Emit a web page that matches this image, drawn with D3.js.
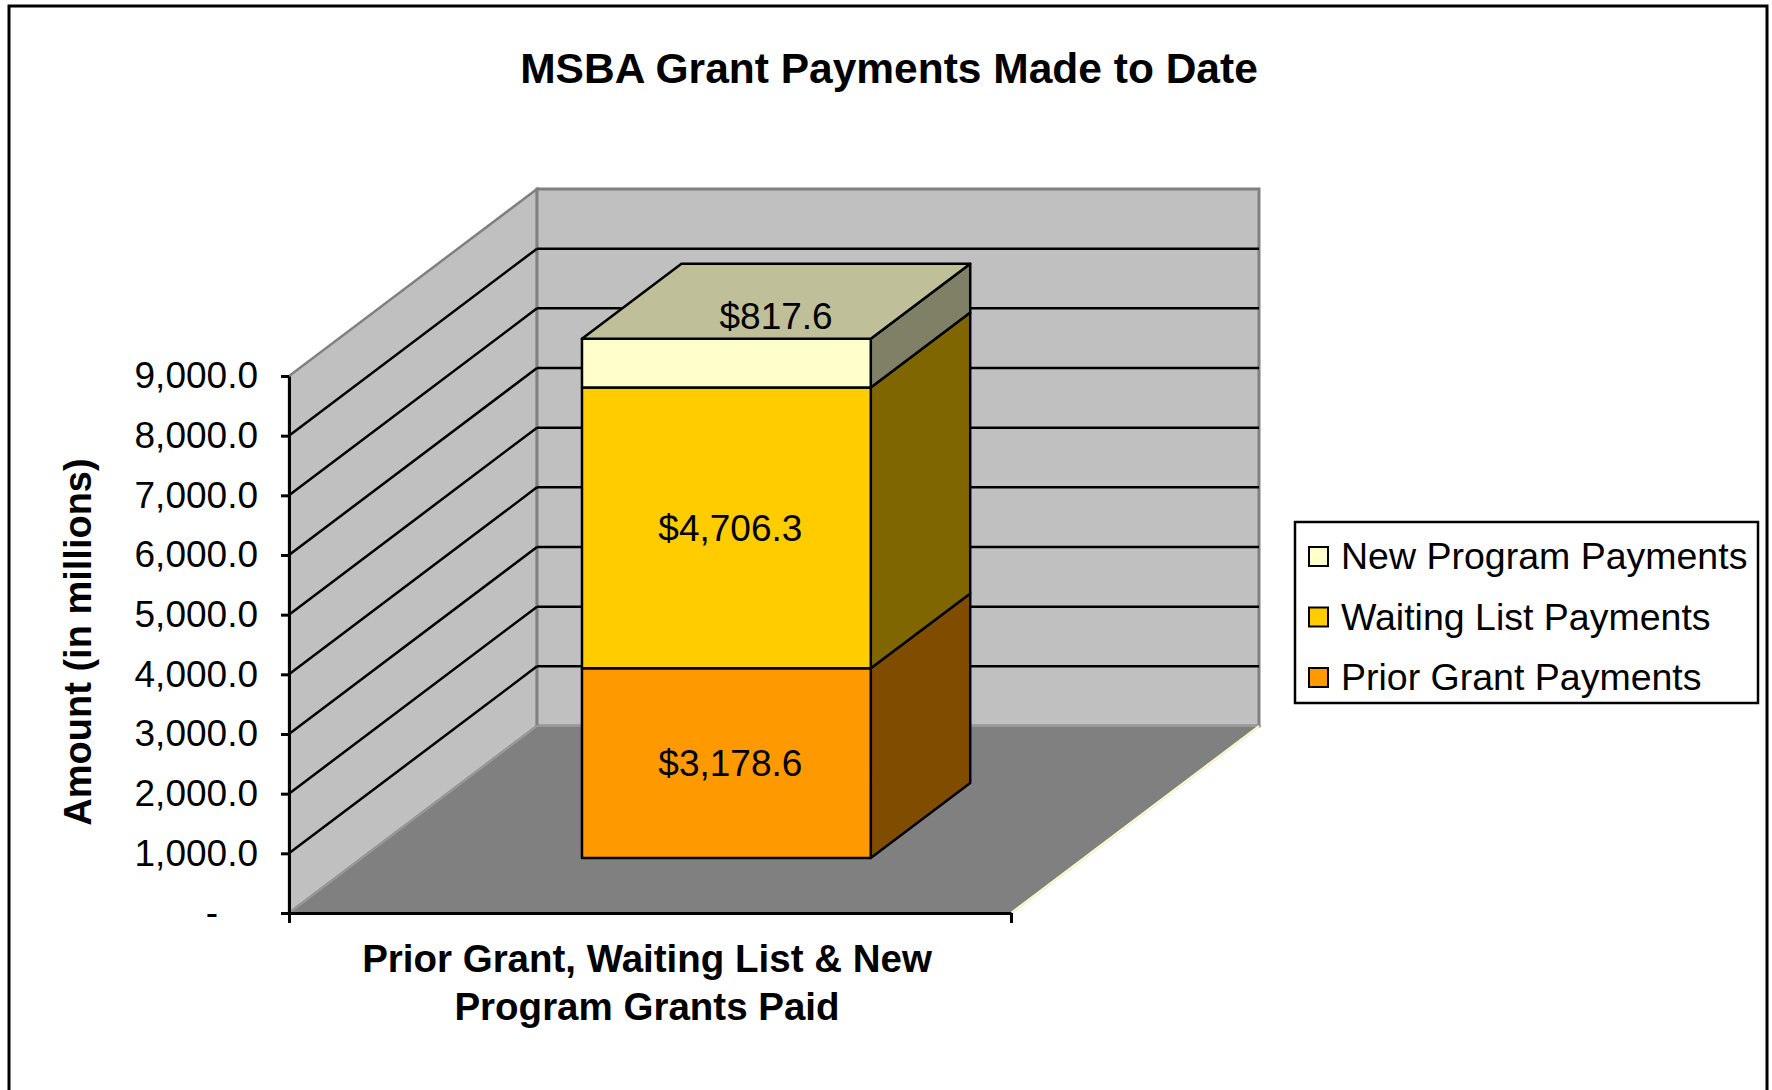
<!DOCTYPE html>
<html>
<head>
<meta charset="utf-8">
<script src="https://cdn.jsdelivr.net/npm/d3@7"></script>
<style>
  body { margin: 0; background: #fff; }
  svg text { font-family: "Liberation Sans", Arial, sans-serif; fill: #000; }
</style>
</head>
<body>
<div id="chart-container"></div>
<script>
// chart data
const categories = ["Prior Grant, Waiting List & New Program Grants Paid"];
const categoryLines = ["Prior Grant, Waiting List & New", "Program Grants Paid"];
const seriesNames = ["Prior Grant Payments", "Waiting List Payments", "New Program Payments"];
const seriesValues = [3178.6, 4706.3, 817.6];
const seriesColors = ["#FF9900", "#FFCC00", "#FFFFCC"];
const yTicks = [0, 1000, 2000, 3000, 4000, 5000, 6000, 7000, 8000, 9000];

document.addEventListener('DOMContentLoaded', function() {
    createBar3D();
});

function createBar3D() {
    const width = 1772, height = 1090;
    // front plane of the plot box and depth offset for the back wall
    const plot = {left: 289, bottom: 913, width: 722, height: 537};
    const depth = {dx: 248, dy: -187};
    const barDepth = [0.294, 0.695];

    const svg = d3.select("#chart-container")
        .append("svg")
        .attr("width", width)
        .attr("height", height);

    // outer chart border
    svg.append("path")
        .attr("d", `M9,${height + 5}V6H1767V${height + 5}`)
        .attr("fill", "none")
        .attr("stroke", "#000")
        .attr("stroke-width", 3);

    svg.append("text")
        .attr("x", 889)
        .attr("y", 83)
        .attr("text-anchor", "middle")
        .style("font-size", "42.5px")
        .style("font-weight", "bold")
        .text("MSBA Grant Payments Made to Date");

    const x = d3.scaleBand()
        .domain(categories)
        .range([plot.left, plot.left + plot.width])
        .paddingInner(0)
        .paddingOuter(0.75)
        .align(0.508);

    const y = d3.scaleLinear()
        .domain([0, 9000])
        .range([plot.bottom, plot.bottom - plot.height]);

    const z = d3.scaleLinear().domain([0, 1]).range([0, 1]);

    // project a point (screen x/y at the front plane) back by depth fraction
    const P = (px, py, d) => [px + z(d) * depth.dx, py + z(d) * depth.dy];
    const poly = pts => "M" + pts.map(p => p.join(",")).join("L") + "Z";

    const xl = plot.left, xr = plot.left + plot.width;
    const y0 = y(0), yTop = y(9000);

    // left wall
    svg.append("path")
        .attr("d", poly([P(xl, y0, 0), P(xl, yTop, 0), P(xl, yTop, 1), P(xl, y0, 1)]))
        .attr("fill", "#C0C0C0")
        .attr("stroke", "#808080")
        .attr("stroke-width", 2.5);

    // back wall
    svg.append("path")
        .attr("d", poly([P(xl, y0, 1), P(xl, yTop, 1), P(xr, yTop, 1), P(xr, y0, 1)]))
        .attr("fill", "#C0C0C0")
        .attr("stroke", "#808080")
        .attr("stroke-width", 3);

    // floor
    svg.append("path")
        .attr("d", poly([P(xl, y0, 0), P(xr, y0, 0), P(xr, y0, 1), P(xl, y0, 1)]))
        .attr("fill", "#808080")
        .attr("stroke", "#999999")
        .attr("stroke-width", 2);

    svg.append("line")
        .attr("x1", P(xr, y0, 0)[0]).attr("y1", P(xr, y0, 0)[1])
        .attr("x2", P(xr, y0, 1)[0]).attr("y2", P(xr, y0, 1)[1])
        .attr("stroke", "#FFFFCC")
        .attr("stroke-width", 2);

    // gridlines on left and back walls
    const grid = yTicks.filter(v => v > 0 && v < 9000);
    const gridG = svg.append("g").attr("class", "grid");
    gridG.selectAll(".grid-left")
        .data(grid)
        .enter().append("line")
        .attr("x1", xl).attr("y1", d => y(d))
        .attr("x2", d => P(xl, y(d), 1)[0]).attr("y2", d => P(xl, y(d), 1)[1])
        .attr("stroke", "#000").attr("stroke-width", 2.5);
    gridG.selectAll(".grid-back")
        .data(grid)
        .enter().append("line")
        .attr("x1", d => P(xl, y(d), 1)[0]).attr("y1", d => P(xl, y(d), 1)[1])
        .attr("x2", d => P(xr, y(d), 1)[0]).attr("y2", d => P(xr, y(d), 1)[1])
        .attr("stroke", "#000").attr("stroke-width", 2.5);

    // stacked 3d column
    const stack = [];
    let acc = 0;
    seriesValues.forEach((v, i) => {
        stack.push({name: seriesNames[i], value: v, y0: acc, y1: acc + v, color: seriesColors[i]});
        acc += v;
    });

    const bx0 = x(categories[0]), bx1 = bx0 + x.bandwidth();
    const shade = (c, k) => {
        const r = d3.rgb(c);
        return d3.rgb(r.r * k, r.g * k, r.b * k).formatHex();
    };
    const [f, b] = barDepth;

    const barG = svg.append("g").attr("class", "bar");
    stack.forEach((s, i) => {
        // right side face
        barG.append("path")
            .attr("d", poly([P(bx1, y(s.y0), f), P(bx1, y(s.y0), b), P(bx1, y(s.y1), b), P(bx1, y(s.y1), f)]))
            .attr("fill", shade(s.color, 0.5))
            .attr("stroke", "#000").attr("stroke-width", 2.5).attr("stroke-linejoin", "round");
        // front face
        barG.append("path")
            .attr("d", poly([P(bx0, y(s.y0), f), P(bx1, y(s.y0), f), P(bx1, y(s.y1), f), P(bx0, y(s.y1), f)]))
            .attr("fill", s.color)
            .attr("stroke", "#000").attr("stroke-width", 2.5).attr("stroke-linejoin", "round");
        if (i === stack.length - 1) {
            barG.append("path")
                .attr("d", poly([P(bx0, y(s.y1), f), P(bx1, y(s.y1), f), P(bx1, y(s.y1), b), P(bx0, y(s.y1), b)]))
                .attr("fill", shade(s.color, 0.75))
                .attr("stroke", "#000").attr("stroke-width", 2.5).attr("stroke-linejoin", "round");
        }
    });

    // data labels
    const fmt = d3.format("$,.1f");
    stack.forEach((s, i) => {
        let lx, ly;
        if (i === stack.length - 1) {
            const c = P((bx0 + bx1) / 2, y(s.y1), (f + b) / 2);
            lx = c[0]; ly = c[1] + 15;
        } else {
            const c = P((bx0 + bx1) / 2, (y(s.y0) + y(s.y1)) / 2, f);
            lx = c[0] + 4; ly = c[1];
        }
        svg.append("text")
            .attr("x", lx).attr("y", ly)
            .attr("dy", "0.35em")
            .attr("text-anchor", "middle")
            .style("font-size", "37px")
            .text(fmt(s.value));
    });

    // value axis
    const yAxis = svg.append("g")
        .attr("class", "y-axis")
        .attr("transform", `translate(${xl},0)`)
        .call(d3.axisLeft(y)
            .tickValues(yTicks)
            .tickSize(8)
            .tickSizeOuter(0)
            .tickPadding(23)
            .tickFormat(d => d === 0 ? "-" : d3.format(",.1f")(d)));
    yAxis.selectAll("text")
        .style("font-size", "37px")
        .style("font-family", '"Liberation Sans", Arial, sans-serif')
        .attr("dx", d => d === 0 ? -40 : 0);
    yAxis.selectAll("line, path").attr("stroke", "#000").attr("stroke-width", 3);

    // category axis along the floor front edge
    const xEdge = d3.scaleLinear().domain([0, 1]).range([xl, xr]);
    const xAxis = svg.append("g")
        .attr("class", "x-axis")
        .attr("transform", `translate(0,${y0})`)
        .call(d3.axisBottom(xEdge).tickValues([0, 1]).tickSize(10).tickSizeOuter(0).tickFormat(""));
    xAxis.selectAll("line, path").attr("stroke", "#000").attr("stroke-width", 3);

    const catLabel = svg.append("text")
        .attr("text-anchor", "middle")
        .style("font-size", "38.5px")
        .style("font-weight", "bold");
    categoryLines.forEach((t, i) => {
        catLabel.append("tspan")
            .attr("x", (xl + xr) / 2 - 3)
            .attr("y", 972 + i * 48)
            .text(t);
    });

    // value axis title
    svg.append("text")
        .attr("transform", `translate(91, 642) rotate(-90)`)
        .attr("text-anchor", "middle")
        .style("font-size", "38px")
        .style("font-weight", "bold")
        .text("Amount (in millions)");

    // legend
    const legend = svg.append("g")
        .attr("class", "legend")
        .attr("transform", "translate(1295,522)");
    legend.append("rect")
        .attr("width", 463).attr("height", 181)
        .attr("fill", "#fff").attr("stroke", "#000").attr("stroke-width", 2.5);
    const order = [2, 1, 0];
    const rows = legend.selectAll(".legend-row")
        .data(order)
        .enter().append("g")
        .attr("class", "legend-row")
        .attr("transform", (d, i) => `translate(0,${34 + i * 60.5})`);
    rows.append("rect")
        .attr("x", 14).attr("y", -9)
        .attr("width", 19).attr("height", 19)
        .attr("fill", d => seriesColors[d])
        .attr("stroke", "#000").attr("stroke-width", 2);
    rows.append("text")
        .attr("x", 46).attr("y", 0)
        .attr("dy", "0.35em")
        .style("font-size", "37.5px")
        .text(d => seriesNames[d]);
}
</script>
</body>
</html>
